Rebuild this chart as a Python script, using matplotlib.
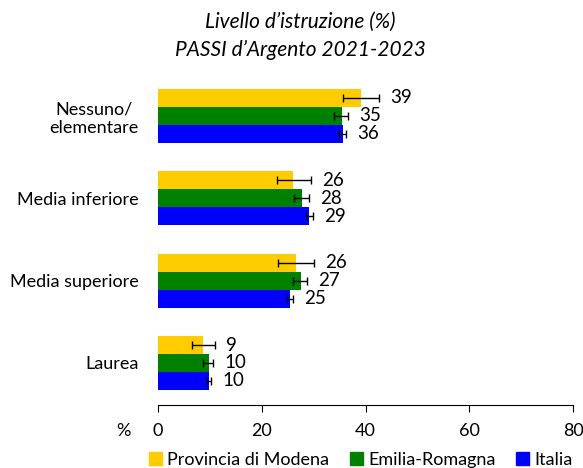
import numpy as np
import matplotlib.pyplot as plt
from matplotlib.patches import Patch

plt.rcParams['font.family'] = ['Lato', 'DejaVu Sans']

categorie = ['Nessuno/\nelementare', 'Media inferiore', 'Media superiore', 'Laurea']
serie = ['Provincia di Modena', 'Emilia-Romagna', 'Italia']
colori = ['#FFCC00', '#008000', '#0000FF']

modena = [39.1, 26.1, 26.6, 8.6]
modena_lo = [35.6, 22.9, 23.1, 6.5]
modena_hi = [42.6, 29.5, 30.1, 10.9]
emilia = [35.5, 27.7, 27.6, 9.8]
emilia_lo = [34.0, 26.3, 26.0, 8.7]
emilia_hi = [36.7, 29.1, 28.8, 10.6]
italia = [35.6, 29.1, 25.4, 9.9]
italia_lo = [34.9, 28.5, 24.9, 9.5]
italia_hi = [36.2, 29.8, 26.1, 10.3]
etichette = [[39, 26, 26, 9], [35, 28, 27, 10], [36, 29, 25, 10]]

valori = [modena, emilia, italia]
lo = [modena_lo, emilia_lo, italia_lo]
hi = [modena_hi, emilia_hi, italia_hi]

fig = plt.figure(figsize=(5.83, 4.68), dpi=100)
ax = fig.add_axes([0.271, 0.1346, 0.712, 0.695])

y = np.arange(len(categorie))
h = 0.218
for i in range(3):
    yy = y + (i - 1) * h
    v = np.array(valori[i])
    err = [v - np.array(lo[i]), np.array(hi[i]) - v]
    ax.barh(yy, v, height=h, color=colori[i], label=serie[i])
    ax.errorbar(v, yy, xerr=err, fmt='none', ecolor='black', elinewidth=1,
                capsize=3, capthick=1)
    for j in range(len(categorie)):
        xe = max(v[j], hi[i][j])
        ax.annotate(str(etichette[i][j]), (xe, yy[j]), xytext=(8, 0),
                    textcoords='offset points', va='center', ha='left', fontsize=13.5)

ax.set_xlim(0, 80)
ax.set_ylim(3.51, -0.437)
ax.set_xticks([0, 20, 40, 60, 80])
ax.set_yticks(y)
ax.set_yticklabels(categorie, multialignment='center')
ax.tick_params(axis='y', length=0, pad=14, labelsize=13)
ax.tick_params(axis='x', direction='out', length=5, pad=8, labelsize=13)
for s in ['top', 'right', 'left']:
    ax.spines[s].set_visible(False)

fig.text(123 / 583, 1 - 431 / 468, '%', ha='center', va='center', fontsize=13)
fig.text(300 / 583, 1 - 22 / 468, "Livello d\u2019istruzione (%)", ha='center', va='center',
         fontsize=15, style='italic')
fig.text(300 / 583, 1 - 50 / 468, "PASSI d\u2019Argento 2021-2023", ha='center', va='center',
         fontsize=15, style='italic')

handles = [Patch(color=c) for c in colori]
fig.legend(handles, serie, loc='center', bbox_to_anchor=(361 / 583, 1 - 460 / 468), ncol=3,
           frameon=False, fontsize=13, handlelength=0.7, handleheight=0.7,
           handletextpad=0.3, columnspacing=1.15, borderpad=0, borderaxespad=0)

fig.savefig('out.png', dpi=100)
